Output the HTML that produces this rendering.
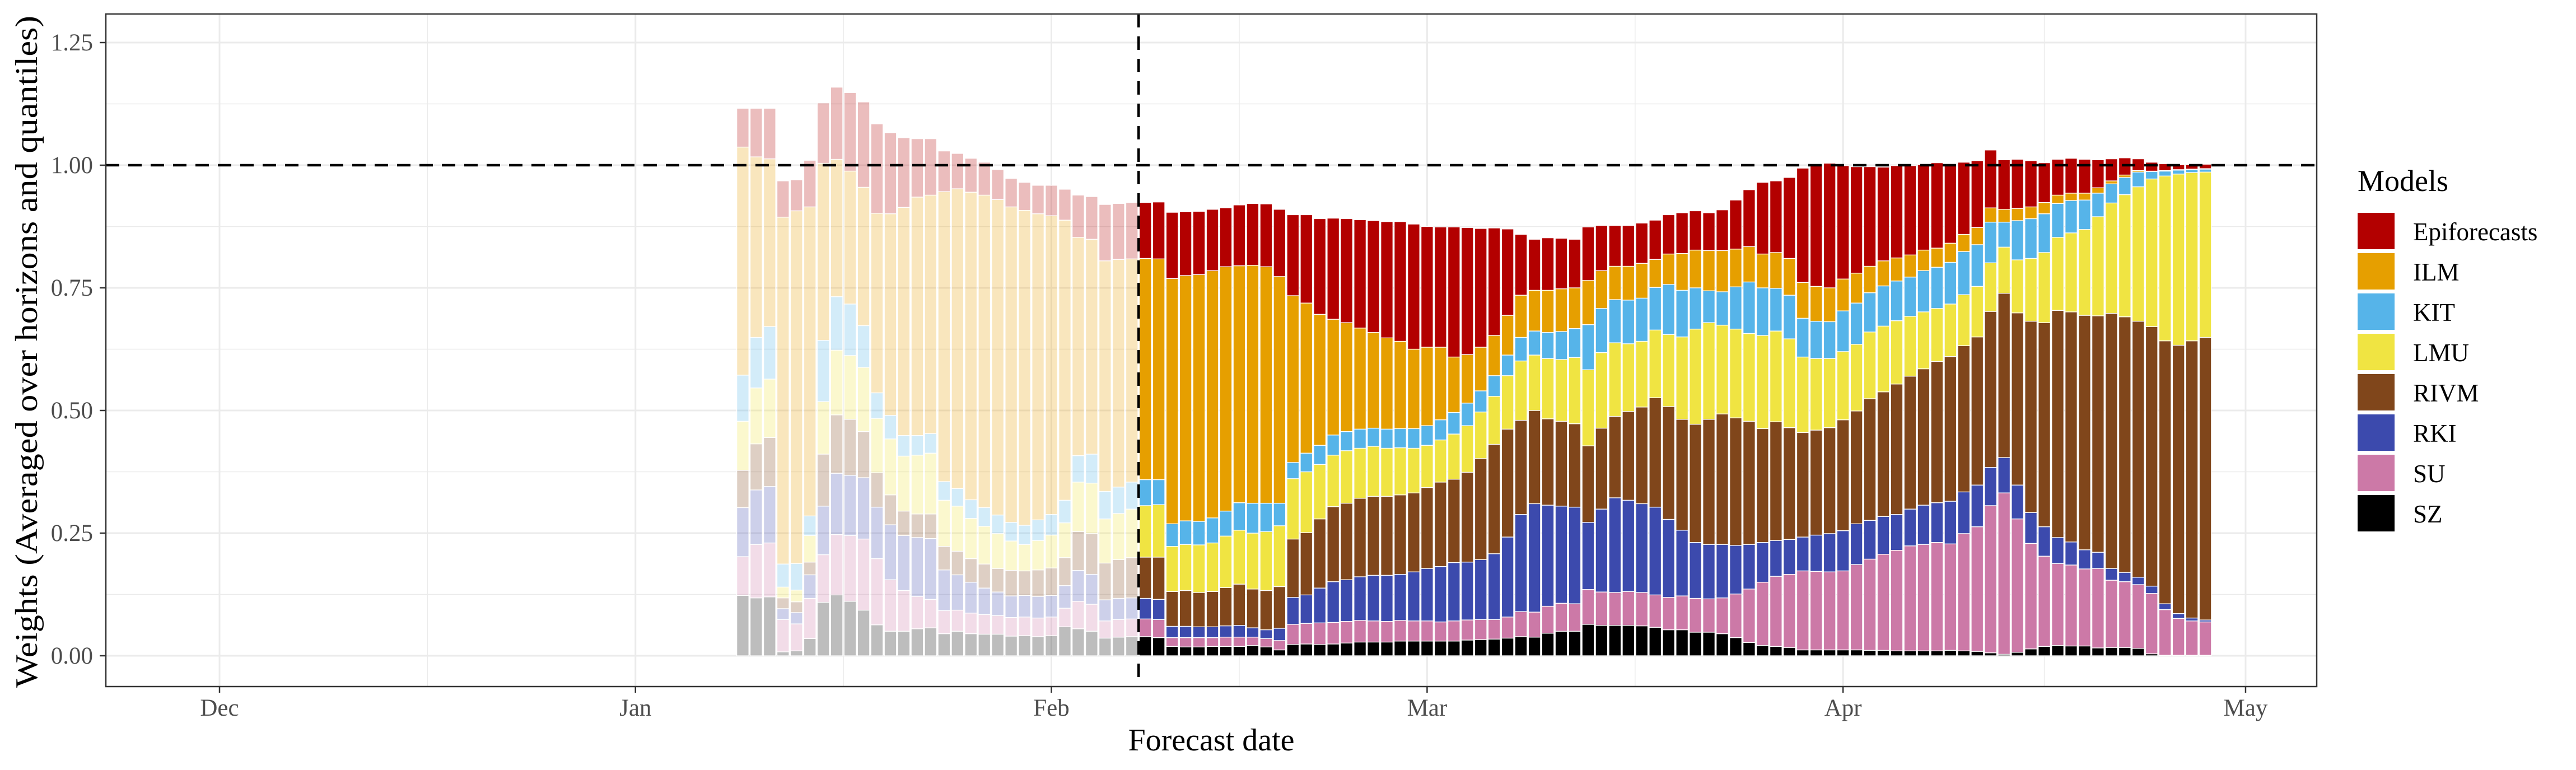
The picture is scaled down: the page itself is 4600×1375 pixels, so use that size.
<!DOCTYPE html>
<html><head><meta charset="utf-8"><title>Model weights</title>
<style>
html,body{margin:0;padding:0;background:#fff;}
svg{display:block;font-family:"Liberation Serif",serif;}
</style></head>
<body>
<svg id="chart" xmlns="http://www.w3.org/2000/svg" width="4600" height="1375" viewBox="0 0 4600 1375">
  <rect x="0" y="0" width="4600" height="1375" fill="#fff"/>
  <g id="grid"></g>
  <g id="bars"></g>
  <g id="refs"></g>
  <rect x="189" y="25" width="3948" height="1201" fill="none" stroke="#333" stroke-width="2.5"/>
  <g id="axes"></g>
  <text transform="translate(66,628) rotate(-90)" text-anchor="middle" font-size="56" textLength="1200" lengthAdjust="spacingAndGlyphs" fill="#000">Weights (Averaged over horizons and quantiles)</text>
  <text x="2163" y="1340" text-anchor="middle" font-size="56" fill="#000">Forecast date</text>
  <g id="legend"></g>
</svg>
<script>
const models = ["SZ","SU","RKI","RIVM","LMU","KIT","ILM","Epiforecasts"];
const colors = ["#000000","#CC79A7","#3C4AAD","#80461B","#F0E442","#56B4E9","#E69F00","#B30000"];
const startDayOffset = 39; // Jan 9 relative to Dec 1
const cutoffDayOffset = 68.5;
const yTicks = [0,0.25,0.5,0.75,1.0,1.25];
const yTickLabels = ["0.00","0.25","0.50","0.75","1.00","1.25"];
const monthOffsets = [0,31,62,90,121,151];
const monthLabels = ["Dec","Jan","Feb","Mar","Apr","May"];

const sZ = [
.123,.118,.120,.008,.010,.035,.109,.124,.111,.093,
.063,.050,.050,.055,.057,.045,.050,.045,.044,.044,
.040,.041,.039,.041,.059,.055,.050,.036,.038,.039,
.039,.037,.019,.018,.018,.019,.019,.019,.021,.018,
.012,.023,.024,.023,.024,.026,.028,.028,.028,.030,
.030,.030,.030,.030,.032,.033,.034,.036,.039,.038,
.046,.050,.050,.064,.062,.062,.062,.061,.058,.053,
.053,.048,.048,.045,.037,.027,.021,.019,.017,.012,
.012,.012,.012,.012,.011,.011,.010,.010,.010,.010,
.011,.010,.009,.006,.003,.007,.014,.019,.021,.020,
.020,.016,.017,.017,.015,.004,.001,.001,.001,.001];
const sU = [
.079,.109,.110,.066,.055,.082,.097,.123,.134,.145,
.135,.105,.083,.066,.058,.047,.043,.042,.040,.038,
.038,.038,.038,.038,.038,.056,.055,.035,.036,.036,
.036,.037,.018,.019,.019,.018,.019,.019,.017,.017,
.019,.041,.042,.044,.044,.044,.044,.043,.042,.042,
.041,.041,.039,.041,.041,.041,.040,.043,.051,.051,
.055,.057,.056,.071,.068,.067,.069,.068,.066,.066,
.069,.069,.068,.073,.089,.109,.129,.143,.149,.161,
.160,.159,.161,.174,.186,.196,.205,.214,.217,.221,
.217,.239,.254,.300,.329,.272,.215,.184,.167,.165,
.157,.162,.137,.134,.130,.123,.093,.075,.070,.068];
const rKI = [
.100,.111,.115,.022,.023,.048,.099,.125,.123,.125,
.105,.112,.112,.120,.124,.083,.072,.063,.054,.048,
.044,.044,.044,.044,.046,.063,.061,.043,.043,.043,
.042,.041,.023,.023,.022,.022,.023,.024,.019,.018,
.025,.055,.058,.071,.083,.085,.089,.093,.094,.094,
.100,.107,.113,.119,.118,.122,.134,.163,.198,.221,
.206,.198,.197,.137,.169,.193,.186,.181,.179,.159,
.134,.114,.111,.109,.099,.091,.081,.073,.071,.069,
.074,.078,.082,.083,.079,.077,.073,.075,.080,.081,
.087,.085,.085,.078,.072,.069,.063,.060,.053,.047,
.039,.033,.024,.019,.015,.015,.012,.010,.006,.004];
const rIVM = [
.076,.094,.100,.022,.022,.026,.106,.119,.114,.094,
.070,.061,.050,.048,.050,.048,.048,.048,.049,.048,
.052,.050,.054,.056,.057,.079,.083,.075,.079,.082,
.084,.086,.071,.073,.070,.072,.078,.084,.079,.080,
.085,.119,.127,.141,.153,.156,.160,.161,.161,.162,
.161,.165,.172,.170,.183,.206,.223,.220,.192,.190,
.176,.173,.170,.156,.165,.166,.181,.197,.223,.230,
.226,.241,.255,.266,.260,.251,.232,.242,.228,.213,
.214,.216,.226,.230,.248,.254,.266,.271,.278,.288,
.295,.298,.302,.318,.335,.351,.390,.416,.463,.469,
.478,.482,.520,.521,.522,.529,.536,.547,.565,.576];
const lMU = [
.100,.114,.119,.022,.024,.054,.107,.132,.130,.131,
.111,.114,.112,.120,.124,.094,.092,.082,.077,.071,
.060,.054,.060,.067,.071,.101,.103,.090,.094,.099,
.105,.107,.092,.094,.097,.099,.105,.110,.114,.120,
.124,.123,.124,.111,.105,.107,.102,.102,.098,.096,
.091,.086,.086,.092,.095,.095,.098,.109,.121,.113,
.123,.126,.135,.155,.154,.150,.138,.134,.138,.147,
.168,.194,.197,.181,.181,.179,.190,.185,.181,.154,
.146,.141,.139,.136,.136,.134,.129,.122,.116,.108,
.107,.104,.103,.099,.094,.108,.128,.143,.149,.161,
.175,.202,.225,.249,.274,.301,.336,.349,.343,.337];
const kIT = [
.094,.103,.107,.047,.054,.040,.125,.109,.105,.085,
.052,.048,.042,.040,.040,.038,.036,.038,.038,.038,
.038,.039,.042,.042,.046,.054,.059,.056,.054,.055,
.053,.051,.046,.048,.048,.051,.051,.056,.061,.058,
.046,.033,.038,.039,.041,.039,.039,.037,.039,.039,
.040,.040,.041,.044,.046,.043,.042,.042,.048,.049,
.053,.057,.059,.092,.090,.088,.089,.088,.087,.102,
.095,.084,.065,.068,.086,.105,.097,.087,.089,.079,
.076,.075,.083,.084,.080,.082,.081,.080,.084,.084,
.085,.088,.085,.083,.051,.080,.081,.079,.069,.066,
.060,.048,.039,.035,.030,.015,.010,.008,.006,.006];
const iLM = [
.465,.368,.342,.707,.719,.630,.361,.280,.271,.282,
.366,.411,.465,.486,.486,.591,.611,.627,.637,.643,
.643,.642,.624,.609,.571,.445,.438,.470,.464,.455,
.451,.450,.500,.500,.503,.504,.498,.483,.485,.482,
.462,.340,.306,.267,.236,.222,.206,.195,.186,.178,
.162,.160,.148,.113,.099,.089,.082,.081,.086,.083,
.086,.087,.083,.090,.077,.068,.069,.071,.057,.062,
.075,.077,.082,.084,.077,.072,.069,.073,.075,.073,
.071,.069,.065,.061,.054,.051,.047,.045,.042,.039,
.039,.035,.035,.029,.026,.025,.024,.023,.017,.015,
.014,.011,.006,.005,.003,.001,.001,.001,.001,.001];
const epi = [
.079,.099,.103,.074,.063,.095,.123,.147,.160,.174,
.182,.165,.142,.119,.115,.083,.072,.069,.067,.061,
.058,.057,.058,.062,.063,.086,.087,.115,.114,.115,
.114,.116,.135,.130,.129,.125,.120,.124,.126,.128,
.137,.165,.180,.195,.206,.212,.221,.228,.237,.244,
.255,.246,.245,.265,.259,.242,.219,.176,.124,.104,
.107,.103,.099,.109,.092,.083,.083,.082,.080,.080,
.083,.080,.077,.083,.100,.116,.146,.146,.165,.233,
.248,.254,.231,.217,.203,.191,.188,.182,.174,.174,
.162,.147,.136,.118,.101,.100,.094,.081,.073,.071,
.069,.057,.045,.035,.024,.018,.014,.010,.009,.009];

const NS = "http://www.w3.org/2000/svg";
const series = [sZ, sU, rKI, rIVM, lMU, kIT, iLM, epi];
const PX_LEFT = 189, PX_RIGHT = 4137, PX_TOP = 25, PX_BOTTOM = 1226;
const X0 = 392, PX_PER_DAY = 23.96;
const Y0 = 1171, PX_PER_UNIT = 876;
function xScale(d){ return X0 + d * PX_PER_DAY; }
function yScale(v){ return Y0 - v * PX_PER_UNIT; }
function mk(tag, attrs, parent){
  const el = document.createElementNS(NS, tag);
  for (const k in attrs) el.setAttribute(k, attrs[k]);
  parent.appendChild(el);
  return el;
}
const grid = document.getElementById('grid');
// minor horizontal
for (let i = 0; i < yTicks.length - 1; i++) {
  const v = (yTicks[i] + yTicks[i+1]) / 2;
  const l = mk('line', {x1:PX_LEFT, x2:PX_RIGHT, y1:yScale(v), y2:yScale(v), stroke:'#EBEBEB', 'stroke-width':1.5}, grid);
  
  
}
for (let i = 0; i < monthOffsets.length - 1; i++) {
  const d = (monthOffsets[i] + monthOffsets[i+1]) / 2;
  const l = mk('line', {x1:xScale(d), x2:xScale(d), y1:PX_TOP, y2:PX_BOTTOM, stroke:'#EBEBEB', 'stroke-width':1.5}, grid);
  
  
}
yTicks.forEach(v => {
  const l = mk('line', {x1:PX_LEFT, x2:PX_RIGHT, y1:yScale(v), y2:yScale(v), stroke:'#EBEBEB', 'stroke-width':3}, grid);
  
  
});
monthOffsets.forEach(d => {
  const l = mk('line', {x1:xScale(d), x2:xScale(d), y1:PX_TOP, y2:PX_BOTTOM, stroke:'#EBEBEB', 'stroke-width':3}, grid);
  
  
});

// bars
const barsG = document.getElementById('bars');
const nBars = sZ.length;
const bw = PX_PER_DAY * 0.9;
for (let i = 0; i < nBars; i++) {
  const day = startDayOffset + i;
  const cx = xScale(day);
  const faded = day < cutoffDayOffset;
  let cum = 0;
  const g = mk('g', {}, barsG);
  
  
  for (let s = 0; s < series.length; s++) {
    const v = series[s][i];
    const yTop = yScale(cum + v), yBot = yScale(cum);
    const r = mk('rect', {x:cx - bw/2, y:yTop, width:bw, height:Math.max(0, yBot - yTop),
      fill:colors[s], 'fill-opacity': faded ? 0.26 : 1, stroke:'#fff', 'stroke-width':1.3}, g);
    
    
    cum += v;
  }
}

// reference lines
const refs = document.getElementById('refs');
const h = mk('line', {x1:PX_LEFT, x2:PX_RIGHT, y1:yScale(1), y2:yScale(1), stroke:'#000', 'stroke-width':4.5, 'stroke-dasharray':'24 16'}, refs);


const vx = xScale(cutoffDayOffset);
const v = mk('line', {x1:vx, x2:vx, y1:PX_TOP, y2:PX_BOTTOM, stroke:'#000', 'stroke-width':4.5, 'stroke-dasharray':'24 16'}, refs);



// axes
const axes = document.getElementById('axes');
yTicks.forEach((t, i) => {
  const y = yScale(t);
  const tk = mk('line', {x1:PX_LEFT - 11, x2:PX_LEFT, y1:y, y2:y, stroke:'#333', 'stroke-width':2.5}, axes);
  
  
  const tx = mk('text', {x:166, y:y + 14, 'text-anchor':'end', 'font-size':43, fill:'#4D4D4D'}, axes);
  tx.textContent = yTickLabels[i];
  
  
});
monthOffsets.forEach((d, i) => {
  const x = xScale(d);
  const tk = mk('line', {x1:x, x2:x, y1:PX_BOTTOM, y2:PX_BOTTOM + 11, stroke:'#333', 'stroke-width':2.5}, axes);
  
  
  const tx = mk('text', {x:x, y:1278, 'text-anchor':'middle', 'font-size':43, fill:'#4D4D4D'}, axes);
  tx.textContent = monthLabels[i];
  
  
});

// legend
const leg = document.getElementById('legend');
const title = mk('text', {x:4210, y:341, 'font-size':54, fill:'#000'}, leg);
title.textContent = 'Models';


for (let k = 0; k < models.length; k++) {
  const s = models.length - 1 - k;
  const y = 380 + k * 72;
  const key = mk('rect', {x:4210, y:y, width:66, height:65, fill:colors[s]}, leg);
  
  
  const lb = mk('text', {x:4309, y:y + 49, 'font-size':45, fill:'#000'}, leg);
  lb.textContent = models[s];
  
  
}
</script>
</body></html>
